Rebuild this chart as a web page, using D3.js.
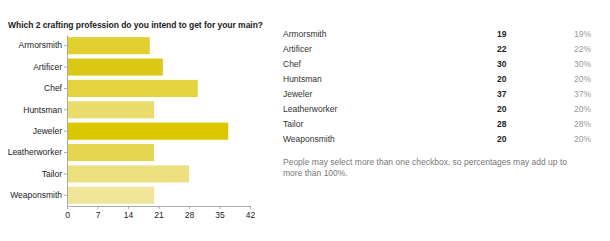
<!DOCTYPE html>
<html><head><meta charset="utf-8">
<script src="https://cdn.jsdelivr.net/npm/d3@7"></script>
<style>body{margin:0;background:#fff;font-family:Arial,"Liberation Sans",sans-serif;}</style>
</head><body>
<svg id="c" width="610" height="241"></svg>
<script>
const title = "Which 2 crafting profession do you intend to get for your main?";
const categories = ["Armorsmith","Artificer","Chef","Huntsman","Jeweler","Leatherworker","Tailor","Weaponsmith"];
const counts = [19,22,30,20,37,20,28,20];
const percents = ["19%","22%","30%","20%","37%","20%","28%","20%"];
const barColors = ["#e2cf30","#dbc716","#e4d33f","#e9dc6c","#dbc700","#e6d54e","#ede17f","#efe69a"];
const xTicks = [0,7,14,21,28,35,42];
const note = ["People may select more than one checkbox, so percentages may add up to","more than 100%."];

const FF = "Arial,'Liberation Sans',sans-serif";
const svg = d3.select("#c").attr("font-family",FF);
svg.append("text").attr("x",8).attr("y",27.5).attr("font-size",8.5).attr("font-weight","bold")
  .attr("fill","#222").attr("textLength",255).attr("lengthAdjust","spacing").text(title);

const x = d3.scaleLinear().domain([0,42]).range([67,250]);
const y = d3.scaleBand().domain(categories).range([35,206]).paddingInner(0.2).paddingOuter(0.1);

svg.append("g").selectAll("rect").data(categories).join("rect")
  .attr("x",x(0)).attr("y",d=>y(d)).attr("height",y.bandwidth())
  .attr("width",(d,i)=>x(counts[i])-x(0)).attr("fill",(d,i)=>barColors[i]);

const gy = svg.append("g").attr("transform",`translate(${x(0)},0)`)
  .call(d3.axisLeft(y).tickSize(3).tickPadding(2).tickSizeOuter(0));
gy.select(".domain").attr("stroke","#aaa");
gy.selectAll(".tick line").attr("stroke","#aaa");
gy.selectAll("text").attr("font-size",8.5).attr("fill","#222").attr("font-family",FF);

const gx = svg.append("g").attr("transform","translate(0,206)")
  .call(d3.axisBottom(x).tickValues(xTicks).tickSize(3).tickPadding(3).tickSizeOuter(0));
gx.select(".domain").attr("stroke","#aaa");
gx.selectAll(".tick line").attr("stroke","#aaa");
gx.selectAll("text").attr("font-size",8.5).attr("fill","#222").attr("font-family",FF);

const rowY = d3.scaleLinear().domain([0,7]).range([37,141.5]);
const t = svg.append("g").attr("font-size",8.5);
t.selectAll(".n").data(categories).join("text").attr("x",283).attr("y",(d,i)=>rowY(i))
  .attr("fill","#333").text(d=>d);
t.selectAll(".c").data(counts).join("text").attr("x",497).attr("y",(d,i)=>rowY(i))
  .attr("fill","#222").attr("font-weight","bold").text(d=>d);
t.selectAll(".p").data(percents).join("text").attr("x",591).attr("y",(d,i)=>rowY(i))
  .attr("text-anchor","end").attr("fill","#999").text(d=>d);

svg.append("g").attr("font-size",8.5).attr("fill","#777").selectAll("text").data(note).join("text")
  .attr("x",283).attr("y",(d,i)=>164.8+i*11.6).text(d=>d);
</script>
</body></html>
